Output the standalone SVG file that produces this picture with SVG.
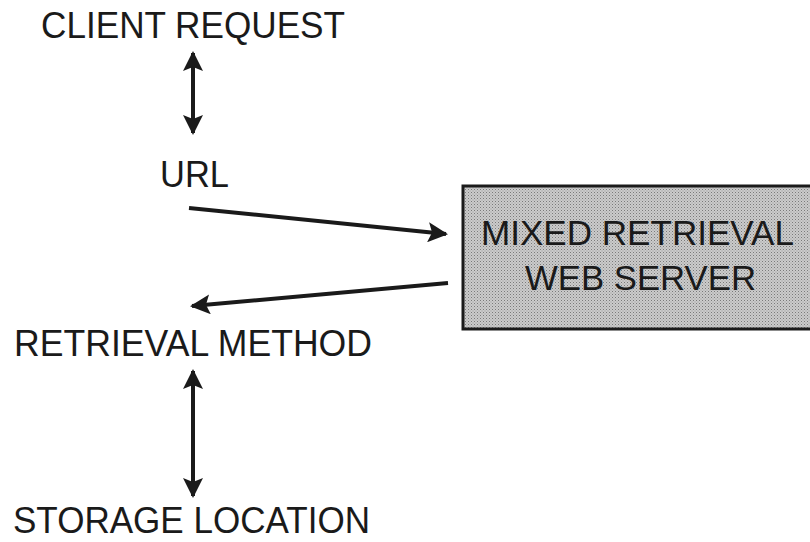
<svg xmlns="http://www.w3.org/2000/svg" width="810" height="542" viewBox="0 0 810 542">
<defs>
<pattern id="dots" width="3" height="3" patternUnits="userSpaceOnUse">
<rect width="3" height="3" fill="#cbcbcb"/>
<rect width="1" height="1" fill="#7a7a7a"/>
<rect x="1.5" y="1.5" width="1" height="1" fill="#9a9a9a"/>
</pattern>
<marker id="ah" viewBox="0 0 10 10" refX="9" refY="5" markerWidth="5" markerHeight="5" orient="auto-start-reverse" markerUnits="strokeWidth">
<path d="M0,0 L10,5 L0,10 L2,5 z" fill="#1a1a1a"/>
</marker>
<style>
.t{font-family:"Liberation Sans",Arial,sans-serif;font-size:37px;fill:#1a1a1a}
.b{font-size:35px}
.c{stroke:#1a1a1a;stroke-width:4;fill:none}
</style>
</defs>
<rect width="810" height="542" fill="#ffffff"/>
<g id="client"><text class="t" x="41" y="38" textLength="304" lengthAdjust="spacingAndGlyphs">CLIENT REQUEST</text></g>
<g id="url"><text class="t" x="160" y="187" textLength="69" lengthAdjust="spacingAndGlyphs">URL</text></g>
<g id="method"><text class="t" x="14" y="356" textLength="358" lengthAdjust="spacingAndGlyphs">RETRIEVAL METHOD</text></g>
<g id="storage"><text class="t" x="13" y="533" textLength="357" lengthAdjust="spacingAndGlyphs">STORAGE LOCATION</text></g>
<g id="server">
<rect x="463" y="186" width="352" height="143" fill="url(#dots)" stroke="#1a1a1a" stroke-width="3"/>
<text class="t b" x="481" y="245" textLength="313" lengthAdjust="spacingAndGlyphs">MIXED RETRIEVAL</text>
<text class="t b" x="525" y="290" textLength="231" lengthAdjust="spacingAndGlyphs">WEB SERVER</text>
</g>
<g id="connectors">
<line class="c" x1="193" y1="53" x2="193" y2="133" marker-start="url(#ah)" marker-end="url(#ah)"/>
<line class="c" x1="189" y1="208" x2="446" y2="234" marker-end="url(#ah)"/>
<line class="c" x1="448" y1="283" x2="192" y2="306" marker-end="url(#ah)"/>
<line class="c" x1="193" y1="371" x2="193" y2="496" marker-start="url(#ah)" marker-end="url(#ah)"/>
</g>
</svg>
